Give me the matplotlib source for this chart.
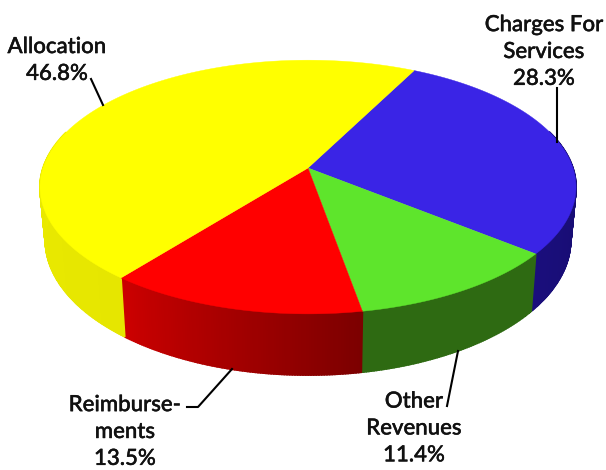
import numpy as np
import matplotlib
matplotlib.use("Agg")
import matplotlib.pyplot as plt
import matplotlib.patheffects as pe
from matplotlib.colors import to_rgb

categories = ["Charges For\nServices", "Other\nRevenues", "Reimburse-\nments", "Allocation"]
shares = [28.3, 11.4, 13.5, 46.8]
top_colors = ["#3a24e6", "#5ee52c", "#ff0000", "#ffff00"]
side_left = ["#1a0e7c", "#2e6a12", "#cc0000", "#f2f200"]   # colour at the left end of each side wall
side_right = ["#120a5c", "#2e6a12", "#7c0000", "#e6e600"]

# label centre and leader line, in pixels of the picture
label_xy = [(544, 52), (414, 428.5), (125, 432), (57, 60.5)]
leaders = [[(557, 88), (557, 142)],
           [(447, 406), (458, 351)],
           [(187, 407), (198, 407), (232, 369)],
           [(91, 79), (103, 105)]]

hub_x, hub_y = 308, 168
rx, ry = 265, 124
persp = 0.15    # the back of the pie is further away
depth = 52
start = 63.0


def top_pt(a):
    # a in degrees, counter clockwise, on the unit circle
    u, v = np.cos(np.radians(a)), np.sin(np.radians(a))
    w = 1 + persp * v
    return hub_x + rx * u / w, hub_y - ry * v / w


def bottom_pt(a):
    x, y = top_pt(a)
    v = np.sin(np.radians(a))
    return hub_x + (x - hub_x) * 0.98, y + depth / (1 + persp * v)


fig = plt.figure(figsize=(6.06, 4.70), dpi=100)
ax = fig.add_axes([0, 0, 1, 1])
ax.set_xlim(0, 606)
ax.set_ylim(470, 0)
ax.axis("off")

edges = start - np.concatenate([[0], np.cumsum(shares)]) * 3.6

# side walls first, the top faces cover whatever is at the back
for i in range(len(shares)):
    a0, a1 = edges[i], edges[i + 1]
    steps = np.linspace(a0, a1, int(abs(a1 - a0)) * 2 + 2)
    c_right, c_left = np.array(to_rgb(side_right[i])), np.array(to_rgb(side_left[i]))
    for k in range(len(steps) - 1):
        s0, s1 = steps[k], steps[k + 1]
        if np.sin(np.radians(s0)) > 0.3 and np.sin(np.radians(s1)) > 0.3:
            continue
        t = k / (len(steps) - 2)
        col = c_right + (c_left - c_right) * t
        x0, y0 = top_pt(s0)
        x1, y1 = top_pt(s1)
        x2, y2 = bottom_pt(s1)
        x3, y3 = bottom_pt(s0)
        ax.fill([x0, x1, x2, x3], [y0, y1, y2, y3], color=col, lw=1.2, zorder=1)

for i in range(len(shares)):
    a = np.linspace(edges[i], edges[i + 1], 120)
    xs, ys = top_pt(a)
    ax.fill(np.r_[hub_x, xs], np.r_[hub_y, ys], color=top_colors[i], lw=0.3, zorder=2)

for i, name in enumerate(categories):
    t = ax.text(label_xy[i][0], label_xy[i][1], f"{name}\n{shares[i]}%", ha="center", va="center",
                family="Lato", fontsize=16, fontweight="medium", linespacing=1.43, color="#111111")
    t.set_path_effects([pe.withStroke(linewidth=0.3, foreground="#111111")])
    pts = np.array(leaders[i])
    ax.plot(pts[:, 0], pts[:, 1], color="black", lw=1.5, zorder=3)

fig.savefig("out.png", dpi=100)
